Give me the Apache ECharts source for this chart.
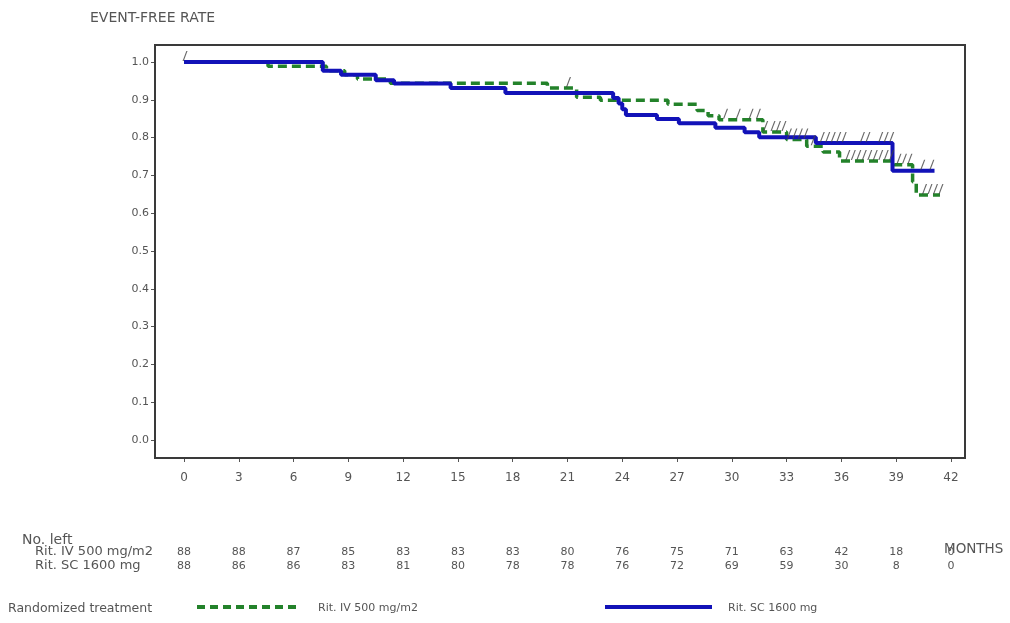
<!DOCTYPE html>
<html>
<head>
<meta charset="utf-8">
<script src="https://cdn.jsdelivr.net/npm/echarts@6/dist/echarts.min.js"></script>
<style>html,body{margin:0;padding:0;background:#fff}#c{width:1010px;height:623px}</style>
</head>
<body>
<div id="c"></div>
<script>
// ---- data ----
const monthTicks = [0,3,6,9,12,15,18,21,24,27,30,33,36,39,42];
const rateTicks = [0,0.1,0.2,0.3,0.4,0.5,0.6,0.7,0.8,0.9,1.0];
const ivAtRisk = [88,88,87,85,83,83,83,80,76,75,71,63,42,18,0];
const scAtRisk = [88,86,86,83,81,80,78,78,76,72,69,59,30,8,0];

// Rit. IV 500 mg/m2 (green dashed) step points: time (months), event-free rate after time
const ivTimes = [0,4.6,7.8,8.8,9.5,11.3,19.9,21.5,22.8,26.5,28.1,28.7,29.3,31.7,33.0,34.1,35.0,35.9,38.9,39.9,40.1,41.4];
const ivSurv  = [1.0,0.989,0.977,0.966,0.955,0.944,0.931,0.907,0.899,0.888,0.872,0.858,0.847,0.815,0.795,0.777,0.762,0.738,0.728,0.683,0.648,0.648];
// Rit. SC 1600 mg (blue solid)
const scTimes = [0,7.6,8.6,10.5,11.5,14.6,17.6,23.5,23.8,24.0,24.2,25.9,27.1,29.1,30.7,31.5,34.6,38.8,41.1];
const scSurv  = [1.0,0.977,0.966,0.952,0.943,0.931,0.918,0.905,0.890,0.875,0.860,0.849,0.838,0.826,0.814,0.801,0.786,0.712,0.712];

// censored observations (months)
const ivCensor = [21.0,29.6,30.3,31.0,31.4,31.8,32.2,32.5,32.8,33.1,33.4,33.7,34.0,34.4,36.3,36.6,36.9,37.2,37.5,37.8,38.1,38.4,38.7,39.1,39.4,39.7,40.5,40.8,41.1,41.4];
const scCensor = [0,34.9,35.2,35.5,35.8,36.1,37.1,37.4,38.1,38.4,38.7,40.4,40.9];

const ivName = 'Rit. IV 500 mg/m2';
const scName = 'Rit. SC 1600 mg';

// ---- helpers ----
function pairs(t, s){ return t.map((v,i)=>[v, s[i]]); }
function survAt(t, times, surv){ let v = surv[0]; for (let i=0;i<times.length;i++){ if (times[i] <= t) v = surv[i]; } return v; }

const FONT = 'DejaVu Sans';
const TXT = '#555';
const GREEN = '#23822a';
const BLUE = '#1212b8';
const slash = 'path://M0,10 L1.2,10 L5,0 L3.8,0 Z';

// axis extents so that 0..42 months and 0..1 sit inside the framed box
const X_MIN = -1.59, X_MAX = 42.77;
const Y_MIN = -0.0476, Y_MAX = 1.045;

const chart = echarts.init(document.getElementById('c'), null, {renderer:'canvas'});

function riskAxis(arr, margin){
  return {
    type:'value', min:X_MIN, max:X_MAX, position:'bottom', offset:0,
    axisLine:{show:false, onZero:false}, axisTick:{show:false}, splitLine:{show:false},
    axisLabel:{ margin: margin, color:TXT, fontFamily:FONT, fontSize:11, customValues: monthTicks,
      formatter: v => { const i = monthTicks.indexOf(Math.round(v)); return i>=0 ? String(arr[i]) : ''; } }
  };
}

chart.setOption({
  animation:false,
  backgroundColor:'#fff',
  grid:{ left:155, right:45, top:45, bottom:165, containLabel:false },
  xAxis:[
    { type:'value', min:X_MIN, max:X_MAX, position:'bottom',
      axisLine:{show:false, onZero:false}, splitLine:{show:false},
      axisTick:{show:true, length:4, customValues: monthTicks, lineStyle:{color:'#555', width:1}},
      axisLabel:{ margin:14, color:TXT, fontFamily:FONT, fontSize:12, customValues: monthTicks,
        formatter: v => String(Math.round(v)) } },
    riskAxis(ivAtRisk, 89),
    riskAxis(scAtRisk, 103)
  ],
  yAxis:{ type:'value', min:Y_MIN, max:Y_MAX, position:'left',
    axisLine:{show:false, onZero:false}, splitLine:{show:false},
    axisTick:{show:true, length:4, customValues: rateTicks, lineStyle:{color:'#555', width:1}},
    axisLabel:{ margin:6, color:TXT, fontFamily:FONT, fontSize:11, customValues: rateTicks,
      formatter: v => v.toFixed(1) } },
  graphic:[
    { type:'rect', shape:{x:155, y:45, width:810, height:413}, style:{fill:'none', stroke:'#3a3a3a', lineWidth:2}, z:10, silent:true },
    { type:'text', left:90, top:11, style:{ text:'EVENT-FREE RATE', fill:TXT, font:'14px "DejaVu Sans"' } },
    { type:'text', left:22, top:533, style:{ text:'No. left', fill:TXT, font:'14px "DejaVu Sans"' } },
    { type:'text', left:35, top:545, style:{ text:ivName, fill:TXT, font:'13px "DejaVu Sans"' } },
    { type:'text', left:35, top:559, style:{ text:scName, fill:TXT, font:'13px "DejaVu Sans"' } },
    { type:'text', left:944, top:542, style:{ text:'MONTHS', fill:TXT, font:'13.5px "DejaVu Sans"' } },
    { type:'text', left:8, top:602, style:{ text:'Randomized treatment', fill:TXT, font:'12.5px "DejaVu Sans"' } },
    // legend keys
    { type:'line', shape:{x1:197, y1:607, x2:301, y2:607}, style:{stroke:GREEN, lineWidth:4, lineDash:[8,5]} },
    { type:'text', left:318, top:603, style:{ text:ivName, fill:TXT, font:'11px "DejaVu Sans"' } },
    { type:'line', shape:{x1:605, y1:607, x2:712, y2:607}, style:{stroke:BLUE, lineWidth:4} },
    { type:'text', left:728, top:603, style:{ text:scName, fill:TXT, font:'11px "DejaVu Sans"' } }
  ],
  series:[
    { name:ivName, type:'line', step:'end', data:pairs(ivTimes, ivSurv), showSymbol:false, symbol:'none', clip:false,
      lineStyle:{color:GREEN, width:3.5, type:[9,5]}, itemStyle:{color:GREEN}, z:3 },
    { name:scName, type:'line', step:'end', data:pairs(scTimes, scSurv), showSymbol:false, symbol:'none', clip:false,
      lineStyle:{color:BLUE, width:4}, itemStyle:{color:BLUE}, z:4 },
    { name:'ivCensor', type:'scatter', data:ivCensor.map(t=>[t, survAt(t, ivTimes, ivSurv)]), symbol:slash, symbolSize:[5,10],
      symbolOffset:[1,-6], itemStyle:{color:'#444'}, clip:false, z:6, silent:true },
    { name:'scCensor', type:'scatter', data:scCensor.map(t=>[t, survAt(t, scTimes, scSurv)]), symbol:slash, symbolSize:[5,10],
      symbolOffset:[1,-6], itemStyle:{color:'#444'}, clip:false, z:6, silent:true }
  ]
});
</script>
</body>
</html>
